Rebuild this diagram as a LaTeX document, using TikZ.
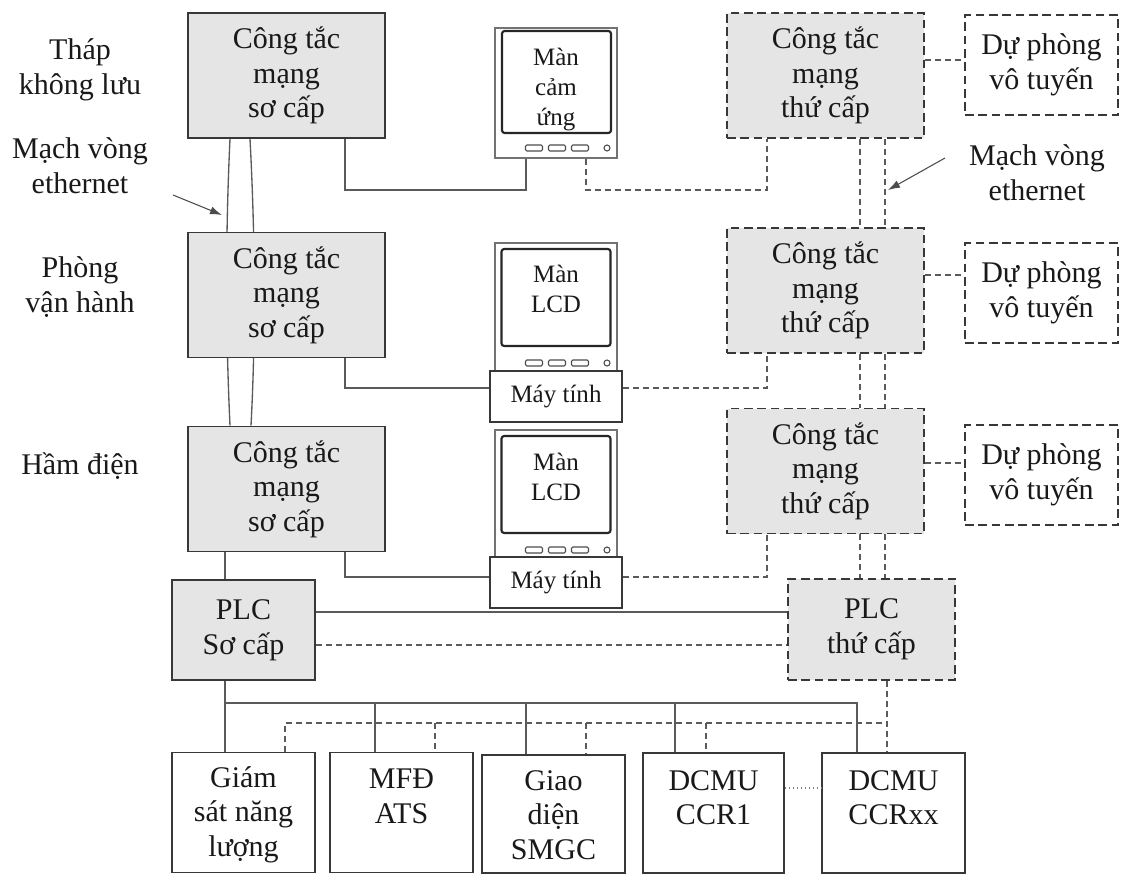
\documentclass[tikz,border=0pt]{standalone}
\usepackage{fontspec}
\setmainfont{Liberation Serif}
\usetikzlibrary{arrows.meta,backgrounds}

\definecolor{boxgray}{RGB}{229,229,229}
\definecolor{linegray}{RGB}{56,56,56}
\definecolor{wiregray}{RGB}{90,90,90}

\tikzset{
  txt/.style={align=center, inner sep=0pt, text=black!90, font=\fontsize{22.5}{26}\selectfont},
  smalltxt/.style={align=center, inner sep=0pt, text=black!90, font=\fontsize{18.75}{22.5}\selectfont},
  dashbox/.style={dash pattern=on 6.5pt off 3.5pt},
  swbox/.style={txt, draw=linegray, line width=1.3pt, fill=boxgray, minimum width=147.75pt, minimum height=93.75pt},
  sswbox/.style={swbox, dashbox},
  radbox/.style={txt, draw=linegray, line width=1.3pt, dashbox, minimum width=114.75pt, minimum height=75pt},
  unitbox/.style={draw=linegray, line width=1.3pt, minimum width=107.25pt, minimum height=90pt},
  monframe/.style={draw=black!55, line width=0.9pt, minimum width=91.5pt},
  screen/.style={draw=black!85, line width=1.6pt, rounded corners=2pt, minimum width=81.75pt},
  pcbox/.style={smalltxt, draw=linegray, line width=1.3pt, fill=white, minimum width=99pt, minimum height=38.25pt},
  btn/.style={draw=black!70, line width=0.8pt, rounded corners=1pt},
  wire/.style={draw=wiregray, line width=1pt},
  dwire/.style={wire, dash pattern=on 4.5pt off 3pt},
  note/.style={-{Latex[length=9pt,width=6pt]}, draw=black!70, line width=0.8pt}
}

\begin{document}
\begin{tikzpicture}[x=0.75pt,y=0.75pt,yscale=-1,xscale=1]
\useasboundingbox (0,0) rectangle (1127,875);

% left and right labels
\node[txt] (tower) at (80,70) {Tháp\\không lưu};
\node[txt] (ringl) at (80,166) {Mạch vòng\\ethernet};
\node[txt] (oproom) at (80,287) {Phòng\\vận hành};
\node[txt] (vault) at (80,466) {Hầm điện};
\node[txt] (ringr) at (1037,173) {Mạch vòng\\ethernet};

% primary switches
\node[swbox] (sw1) at (286.5,75.5) {Công tắc\\mạng\\sơ cấp};
\node[swbox] (sw2) at (286.5,295) {Công tắc\\mạng\\sơ cấp};
\node[swbox] (sw3) at (286.5,489) {Công tắc\\mạng\\sơ cấp};

% secondary switches
\node[sswbox] (ssw1) at (825.5,75.5) {Công tắc\\mạng\\thứ cấp};
\node[sswbox] (ssw2) at (825.5,290.5) {Công tắc\\mạng\\thứ cấp};
\node[sswbox] (ssw3) at (825.5,471) {Công tắc\\mạng\\thứ cấp};

% radio backup
\node[radbox] (rad1) at (1041.5,65) {Dự phòng\\vô tuyến};
\node[radbox] (rad2) at (1041.5,293) {Dự phòng\\vô tuyến};
\node[radbox] (rad3) at (1041.5,475) {Dự phòng\\vô tuyến};

% PLCs
\node[swbox, minimum width=107.25pt, minimum height=75pt] (plc1) at (243.5,630) {PLC\\Sơ cấp};
\node[sswbox, minimum width=125.25pt, minimum height=75.75pt] (plc2) at (871.5,629.5) {PLC\\thứ cấp};

% monitors
\node[monframe, minimum height=97.5pt] (mon1) at (556,93) {};
\node[screen, minimum height=76.5pt] (scr1) at (556.5,82) {};
\node[smalltxt] (scr1t) at (556,90) {Màn\\cảm\\ứng};

\node[monframe, minimum height=96pt] (mon2) at (556,307) {};
\node[screen, minimum height=72.75pt] (scr2) at (556,297.5) {};
\node[smalltxt] (scr2t) at (556,289) {Màn\\LCD};
\node[pcbox] (pc2) at (556,396.5) {Máy tính};

\node[monframe, minimum height=95.25pt] (mon3) at (556,493.5) {};
\node[screen, minimum height=72.75pt] (scr3) at (556,484.5) {};
\node[smalltxt] (scr3t) at (556,476.5) {Màn\\LCD};
\node[pcbox] (pc3) at (556,582.5) {Máy tính};

\foreach \by in {148,363,550} {
  \foreach \bx in {534,557,580}
    \draw[btn] (\bx-8.5,\by-3) rectangle (\bx+8.5,\by+3);
  \draw[btn] (607,\by) circle (2.25pt);
}

% field units
\node[unitbox] (gs) at (243.5,812.5) {};
\node[unitbox] (mfd) at (401.5,812.5) {};
\node[unitbox, minimum height=88.5pt] (smgc) at (553.5,814) {};
\node[unitbox, minimum width=105.75pt] (ccr1) at (713.5,813) {};
\node[unitbox] (ccrx) at (893.5,813) {};
\node[txt, anchor=north] (gst) at (gs.north |- 0,766) {Giám\\sát năng\\lượng};
\node[txt, anchor=north] (mfdt) at (mfd.north |- 0,769) {MFĐ\\ATS};
\node[txt, anchor=north] (smgct) at (smgc.north |- 0,770) {Giao\\diện\\SMGC};
\node[txt, anchor=north] (ccr1t) at (ccr1.north |- 0,770) {DCMU\\CCR1};
\node[txt, anchor=north] (ccrxt) at (ccrx.north |- 0,770) {DCMU\\CCRxx};

% ethernet ring, primary
\begin{scope}[on background layer]
\draw[wire] (sw1.south -| 230,0) .. controls (225.5,234) and (225.5,330) .. (sw3.north -| 230,0);
\draw[wire] (sw1.south -| 250,0) .. controls (255,234) and (256,330) .. (sw3.north -| 251,0);
\end{scope}

% ethernet ring, secondary
\foreach \x in {860,885} {
  \draw[dwire] (ssw1.south -| \x,0) -- (ssw2.north -| \x,0);
  \draw[dwire] (ssw2.south -| \x,0) -- (ssw3.north -| \x,0);
  \draw[dwire] (ssw3.south -| \x,0) -- (plc2.north -| \x,0);
}

% switches to radio backup
\draw[dwire] (ssw1.east |- 0,60) -- (rad1.west |- 0,60);
\draw[dwire] (ssw2.east |- 0,275) -- (rad2.west |- 0,275);
\draw[dwire] (ssw3.east |- 0,463) -- (rad3.west |- 0,463);

% switches to monitors
\draw[wire] (sw1.south -| 345,0) |- (526,190) -- (mon1.south -| 526,0);
\draw[dwire] (mon1.south -| 586,0) |- (767,190) -- (ssw1.south -| 767,0);
\draw[wire] (sw2.south -| 345,0) |- (pc2.west |- 0,388);
\draw[dwire] (pc2.east |- 0,388) -| (ssw2.south -| 767,0);
\draw[wire] (sw3.south -| 345,0) |- (pc3.west |- 0,577);
\draw[dwire] (pc3.east |- 0,577) -| (ssw3.south -| 767,0);

% PLCs
\draw[wire] (sw3.south -| 225,0) -- (plc1.north -| 225,0);
\draw[wire] (plc1.east |- 0,612) -- (plc2.west |- 0,612);
\draw[dwire] (plc1.east |- 0,645) -- (plc2.west |- 0,645);

% field bus
\draw[wire] (plc1.south -| 225,0) -- (gs.north -| 225,0);
\draw[wire] (225,703) -| (ccrx.north -| 857,0);
\foreach \n/\x in {mfd/375, smgc/526, ccr1/675}
  \draw[wire] (\x,703) -- (\n.north -| \x,0);
\draw[dwire] (gs.north -| 285,0) |- (887,723);
\draw[dwire] (plc2.south -| 887,0) -- (ccrx.north -| 887,0);
\foreach \n/\x in {mfd/435, smgc/586, ccr1/706}
  \draw[dwire] (\x,723) -- (\n.north -| \x,0);
\draw[black!50, line width=1pt, dotted] (ccr1.east |- 0,788) -- (ccrx.west |- 0,788);

% ring pointers
\coordinate (ringLtip) at (222,215);
\coordinate (ringRtip) at (888,190);
\draw[note] (173,195) -- (ringLtip);
\draw[note] (945,158) -- (ringRtip);
\end{tikzpicture}
\end{document}
